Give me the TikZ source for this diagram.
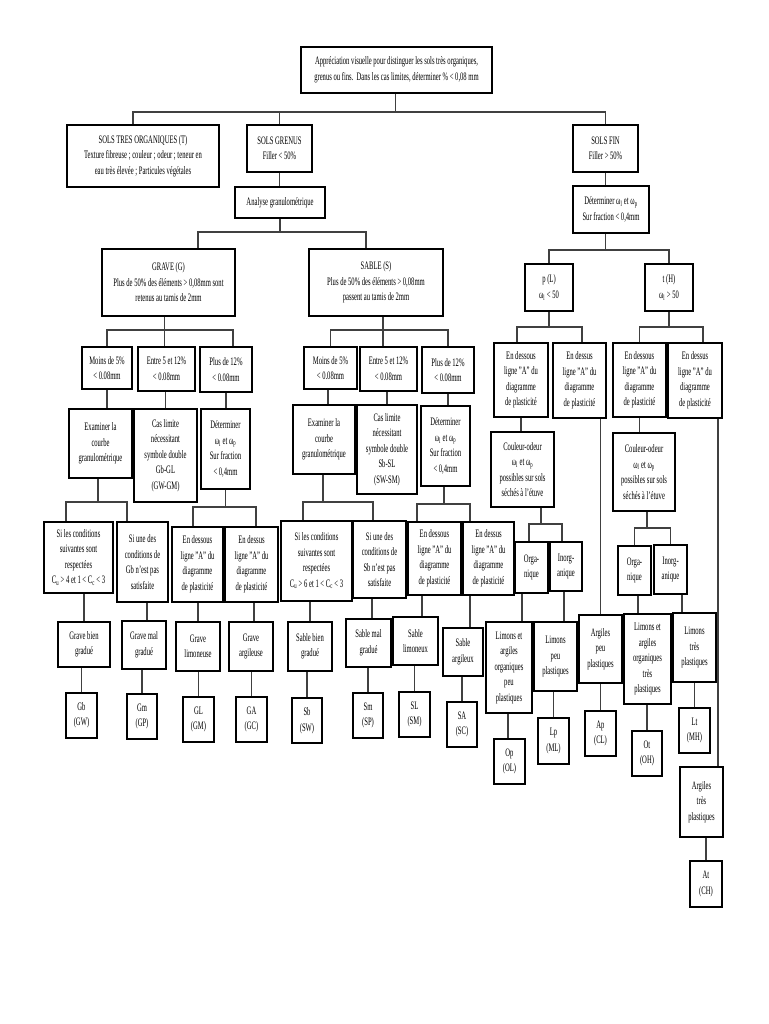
\documentclass[tikz,border=0pt]{standalone}
\usepackage{fontspec}
\setmainfont{Liberation Serif}[FakeStretch=0.58]
\usetikzlibrary{calc}
\tikzset{
  box/.style={draw=black, line width=1.5pt, inner sep=0pt, align=center, font=\fontsize{11.4}{15.5}\selectfont},
  conn/.style={draw=black!75, line width=1.1pt},
}
\newcommand\bx[6]{%
  \pgfmathsetmacro\bxcx{(#2+#4)/2}%
  \pgfmathsetmacro\bxcy{(#3+#5)/2}%
  \pgfmathsetmacro\bxw{#4-#2}%
  \pgfmathsetmacro\bxh{#5-#3}%
  \node[box, minimum width=\bxw pt, minimum height=\bxh pt] (#1) at (\bxcx,\bxcy) {#6};}
\newcommand\omL{ω\textsubscript{l}}
\newcommand\omP{ω\textsubscript{p}}
\begin{document}
\begin{tikzpicture}[x=1pt,y=-1pt]
\useasboundingbox (0,0) rectangle (768,1024);
% ---------- top levels
\bx{top}{301}{47}{492}{93}{Appréciation visuelle pour distinguer les sols très organiques,\\grenus ou fins.\ \ Dans les cas limites, déterminer \% < 0,08 mm}
\bx{st}{67}{125}{219}{187}{SOLS TRES ORGANIQUES (T)\\Texture fibreuse ; couleur ; odeur ; teneur en\\eau très élevée ; Particules végétales}
\bx{sg}{247}{125}{312}{172}{SOLS GRENUS\\Filler < 50\%}
\bx{sf}{573}{125}{638}{172}{SOLS FIN\\Filler > 50\%}
\bx{an}{235}{187}{325}{218}{Analyse granulométrique}
\bx{dF}{573}{186}{649}{233}{Déterminer \omL{} et \omP\\Sur fraction < 0,4mm}
\bx{gr}{102}{249}{235}{316}{GRAVE (G)\\Plus de 50\% des éléments > 0,08mm sont\\retenus au tamis de 2mm}
\bx{sa}{309}{249}{443}{316}{SABLE (S)\\Plus de 50\% des éléments > 0,08mm\\passent au tamis de 2mm}
\bx{pL}{525}{264}{573}{311}{p (L)\\\omL{} < 50}
\bx{tH}{645}{264}{693}{311}{t (H)\\\omL{} > 50}
% ---------- grave
\bx{mG}{82}{347}{132}{389}{Moins de 5\%\\< 0.08mm}
\bx{eG}{138}{347}{195}{391}{Entre 5 et 12\%\\< 0.08mm}
\bx{pG}{200}{347}{252}{392}{Plus de 12\%\\< 0.08mm}
\bx{exG}{69}{409}{132}{478}{Examiner la\\courbe\\granulométrique}
\bx{clG}{134}{409}{197}{502}{Cas limite\\nécessitant\\symbole double\\Gb-GL\\(GW-GM)}
\bx{dG}{201}{409}{250}{489}{Déterminer\\\omL{} et \omP\\Sur fraction\\< 0,4mm}
\bx{slG}{44}{522}{113}{593}{Si les conditions\\suivantes sont\\respectées\\C\textsubscript{u} > 4 et 1 < C\textsubscript{c} < 3}
\bx{suG}{117}{522}{168}{602}{Si une des\\conditions de\\Gb n'est pas\\satisfaite}
\bx{edG}{172}{527}{223}{602}{En dessous\\ligne "A" du\\diagramme\\de plasticité}
\bx{esG}{225}{527}{278}{602}{En dessus\\ligne "A" du\\diagramme\\de plasticité}
\bx{gbg}{58}{622}{110}{667}{Grave bien\\gradué}
\bx{gmg}{122}{621}{166}{669}{Grave mal\\gradué}
\bx{glm}{176}{622}{220}{671}{Grave\\limoneuse}
\bx{gag}{229}{622}{273}{671}{Grave\\argileuse}
\bx{Gb}{66}{693}{97}{738}{Gb\\(GW)}
\bx{Gm}{127}{694}{157}{739}{Gm\\(GP)}
\bx{GL}{183}{697}{214}{742}{GL\\(GM)}
\bx{GA}{236}{697}{267}{742}{GA\\(GC)}
% ---------- sable
\bx{mS}{304}{347}{357}{389}{Moins de 5\%\\< 0.08mm}
\bx{eS}{360}{347}{417}{391}{Entre 5 et 12\%\\< 0.08mm}
\bx{pS}{422}{347}{474}{393}{Plus de 12\%\\< 0.08mm}
\bx{exS}{293}{405}{355}{474}{Examiner la\\courbe\\granulométrique}
\bx{clS}{357}{405}{417}{494}{Cas limite\\nécessitant\\symbole double\\Sb-SL\\(SW-SM)}
\bx{dS}{421}{406}{470}{486}{Déterminer\\\omL{} et \omP\\Sur fraction\\< 0,4mm}
\bx{slS}{281}{521}{352}{601}{Si les conditions\\suivantes sont\\respectées\\C\textsubscript{u} > 6 et 1 < C\textsubscript{c} < 3}
\bx{suS}{353}{521}{406}{598}{Si une des\\conditions de\\Sb n'est pas\\satisfaite}
\bx{edS}{408}{522}{461}{595}{En dessous\\ligne "A" du\\diagramme\\de plasticité}
\bx{esS}{463}{522}{514}{595}{En dessus\\ligne "A" du\\diagramme\\de plasticité}
\bx{sbg}{288}{622}{332}{671}{Sable bien\\gradué}
\bx{smg}{346}{619}{391}{667}{Sable mal\\gradué}
\bx{slm}{393}{617}{438}{665}{Sable\\limoneux}
\bx{sag}{443}{628}{483}{676}{Sable\\argileux}
\bx{Sb}{292}{698}{322}{743}{Sb\\(SW)}
\bx{Sm}{353}{693}{383}{738}{Sm\\(SP)}
\bx{SL}{399}{692}{430}{737}{SL\\(SM)}
\bx{SA}{447}{702}{477}{747}{SA\\(SC)}
% ---------- fins
\bx{edL}{494}{343}{548}{417}{En dessous\\ligne "A" du\\diagramme\\de plasticité}
\bx{esL}{553}{343}{606}{418}{En dessus\\ligne "A" du\\diagramme\\de plasticité}
\bx{edH}{613}{343}{666}{417}{En dessous\\ligne "A" du\\diagramme\\de plasticité}
\bx{esH}{668}{343}{722}{418}{En dessus\\ligne "A" du\\diagramme\\de plasticité}
\bx{coL}{491}{432}{554}{507}{Couleur-odeur\\\omL{} et \omP\\possibles sur sols\\séchés à l'étuve}
\bx{coH}{613}{433}{675}{511}{Couleur-odeur\\\omL{} et \omP\\possibles sur sols\\séchés à l'étuve}
\bx{orL}{515}{542}{548}{593}{Orga-\\nique}
\bx{inL}{550}{542}{582}{591}{Inorg-\\anique}
\bx{orH}{618}{546}{651}{595}{Orga-\\nique}
\bx{inH}{654}{545}{687}{594}{Inorg-\\anique}
\bx{lopL}{486}{622}{532}{713}{Limons et\\argiles\\organiques\\peu\\plastiques}
\bx{lpp}{534}{622}{577}{691}{Limons\\peu\\plastiques}
\bx{apl}{579}{615}{622}{683}{Argiles\\peu\\plastiques}
\bx{lotp}{624}{614}{671}{704}{Limons et\\argiles\\organiques\\très\\plastiques}
\bx{ltp}{673}{613}{716}{682}{Limons\\très\\plastiques}
\bx{Op}{494}{739}{525}{784}{Op\\(OL)}
\bx{Lp}{538}{718}{569}{764}{Lp\\(ML)}
\bx{Ap}{585}{711}{616}{756}{Ap\\(CL)}
\bx{Ot}{632}{731}{662}{776}{Ot\\(OH)}
\bx{Lt}{679}{708}{710}{753}{Lt\\(MH)}
\bx{atp}{680}{767}{723}{837}{Argiles\\très\\plastiques}
\bx{At}{690}{861}{722}{907}{At\\(CH)}
% ---------- bus coordinates
\coordinate (b0) at (0,112);
\coordinate (b1) at (0,232);
\coordinate (b2) at (0,250);
\coordinate (b3) at (0,330);
\coordinate (b4) at (0,330);
\coordinate (b5) at (0,502);
\coordinate (b6) at (0,507);
\coordinate (b7) at (0,502);
\coordinate (b8) at (0,504);
\coordinate (b9) at (0,327);
\coordinate (b10) at (0,327);
\coordinate (b11) at (0,524);
\coordinate (b12) at (0,528);
% ---------- connectors: top
\draw[conn] ([xshift=-10pt]st.north) |- (sf.north |- b0) -- (sf.north);
\draw[conn] (sg.north) -- (sg.north |- b0);
\draw[conn] ([xshift=-1pt]top.south) -- ([xshift=-1pt]top.south |- b0);
\draw[conn] (sg.south) -- (sg.south |- an.north);
\draw[conn] ([xshift=29.5pt]gr.north) |- ([xshift=-10pt]sa.north |- b1) -- ([xshift=-10pt]sa.north);
\draw[conn] (an.south) -- (an.south |- b1);
\draw[conn] (sf.south) -- (sf.south |- dF.north);
\draw[conn] (pL.north) |- (tH.north |- b2) -- (tH.north);
\draw[conn] (dF.south -| sf.south) -- (sf.south |- b2);
% ---------- grave
\draw[conn] (mG.north) |- ([xshift=7pt]pG.north |- b3) -- ([xshift=7pt]pG.north);
\draw[conn] ([xshift=-2pt]gr.south -| eG.north) -- ([xshift=-2pt]eG.north);
\draw[conn] (mG.south) -- (mG.south |- exG.north);
\draw[conn] (clG.north) -- (clG.north |- eG.south);
\draw[conn] (pG.south) -- (pG.south |- dG.north);
\draw[conn] ([xshift=-12.5pt]slG.north) |- ([xshift=-15.5pt]suG.north |- b5) -- ([xshift=-15.5pt]suG.north);
\draw[conn] ([xshift=-2.5pt]exG.south) -- ([xshift=-2.5pt]exG.south |- b5);
\draw[conn] ([xshift=-4.5pt]edG.north) |- ([xshift=4.5pt]esG.north |- b6) -- ([xshift=4.5pt]esG.north);
\draw[conn] (dG.south) -- (dG.south |- b6);
\draw[conn] (gbg.north) -- (gbg.north |- slG.south);
\draw[conn] ([xshift=3pt]gmg.north) -- ([xshift=3pt]gmg.north |- suG.south);
\draw[conn] (glm.north) -- (glm.north |- edG.south);
\draw[conn] ([xshift=3pt]gag.north) -- ([xshift=3pt]gag.north |- esG.south);
\draw[conn] (Gb.north) -- (Gb.north |- gbg.south);
\draw[conn] (Gm.north) -- (Gm.north |- gmg.south);
\draw[conn] (GL.north) -- (GL.north |- glm.south);
\draw[conn] (GA.north) -- (GA.north |- gag.south);
% ---------- sable
\draw[conn] (mS.north) |- (pS.north |- b4) -- (pS.north);
\draw[conn] ([xshift=-5.5pt]eS.north) -- ([xshift=-5.5pt]eS.north |- sa.south);
\draw[conn] ([xshift=-2.5pt]mS.south) -- ([xshift=-2.5pt]mS.south |- exS.north);
\draw[conn] (clS.north) -- (clS.north |- eS.south);
\draw[conn] (pS.south) -- (pS.south |- dS.north);
\draw[conn] ([xshift=-13.5pt]slS.north) |- ([xshift=-6.5pt]suS.north |- b7) -- ([xshift=-6.5pt]suS.north);
\draw[conn] ([xshift=-1pt]exS.south) -- ([xshift=-1pt]exS.south |- b7);
\draw[conn] ([xshift=-17.5pt]edS.north) |- ([xshift=-18.5pt]esS.north |- b8) -- ([xshift=-18.5pt]esS.north);
\draw[conn] ([xshift=-1.5pt]dS.south) -- ([xshift=-1.5pt]dS.south |- b8);
\draw[conn] (sbg.north) -- (sbg.north |- slS.south);
\draw[conn] ([xshift=3.5pt]smg.north) -- ([xshift=3.5pt]smg.north |- suS.south);
\draw[conn] ([xshift=6.5pt]slm.north) -- ([xshift=6.5pt]slm.north |- edS.south);
\draw[conn] ([xshift=7pt]sag.north) -- ([xshift=7pt]sag.north |- esS.south);
\draw[conn] (Sb.north) -- (Sb.north |- sbg.south);
\draw[conn] (Sm.north) -- (Sm.north |- smg.south);
\draw[conn] (SL.north) -- (SL.north |- slm.south);
\draw[conn] (SA.north) -- (SA.north |- sag.south);
% ---------- fins
\draw[conn] ([xshift=-4pt]edL.north) |- ([xshift=2.5pt]esL.north |- b9) -- ([xshift=2.5pt]esL.north);
\draw[conn] (pL.south) -- (pL.south |- b9);
\draw[conn] (edH.north) |- ([xshift=8pt]esH.north |- b10) -- ([xshift=8pt]esH.north);
\draw[conn] (tH.south) -- (tH.south |- b10);
\draw[conn] (edL.south) -- (edL.south |- coL.north);
\draw[conn] ([xshift=-2.5pt]orL.north) |- ([xshift=-4pt]inL.north |- b11) -- ([xshift=-4pt]inL.north);
\draw[conn] ([xshift=18.5pt]coL.south) -- ([xshift=18.5pt]coL.south |- b11);
\draw[conn] ([xshift=-9.5pt]orL.south) -- ([xshift=-9.5pt]orL.south |- lopL.north);
\draw[conn] ([xshift=-1.5pt]Op.north) -- ([xshift=-1.5pt]Op.north |- lopL.south);
\draw[conn] ([xshift=-2pt]inL.south) -- ([xshift=-2pt]inL.south |- lpp.north);
\draw[conn] (Lp.north) -- (Lp.north |- lpp.south);
\draw[conn] (apl.north) -- (apl.north |- esL.south);
\draw[conn] (Ap.north) -- (Ap.north |- apl.south);
\draw[conn] (edH.south) -- (edH.south |- coH.north);
\draw[conn] (orH.north) |- (inH.north |- b12) -- (inH.north);
\draw[conn] ([xshift=3pt]coH.south) -- ([xshift=3pt]coH.south |- b12);
\draw[conn] ([xshift=3.5pt]orH.south) -- ([xshift=3.5pt]orH.south |- lotp.north);
\draw[conn] (Ot.north) -- (Ot.north |- lotp.south);
\draw[conn] ([xshift=11.5pt]inH.south) -- ([xshift=11.5pt]inH.south |- ltp.north);
\draw[conn] (Lt.north) -- (Lt.north |- ltp.south);
\draw[conn] ([xshift=23pt]esH.south) -- ([xshift=23pt]esH.south |- atp.north);
\draw[conn] (At.north) -- (At.north |- atp.south);
\end{tikzpicture}
\end{document}
